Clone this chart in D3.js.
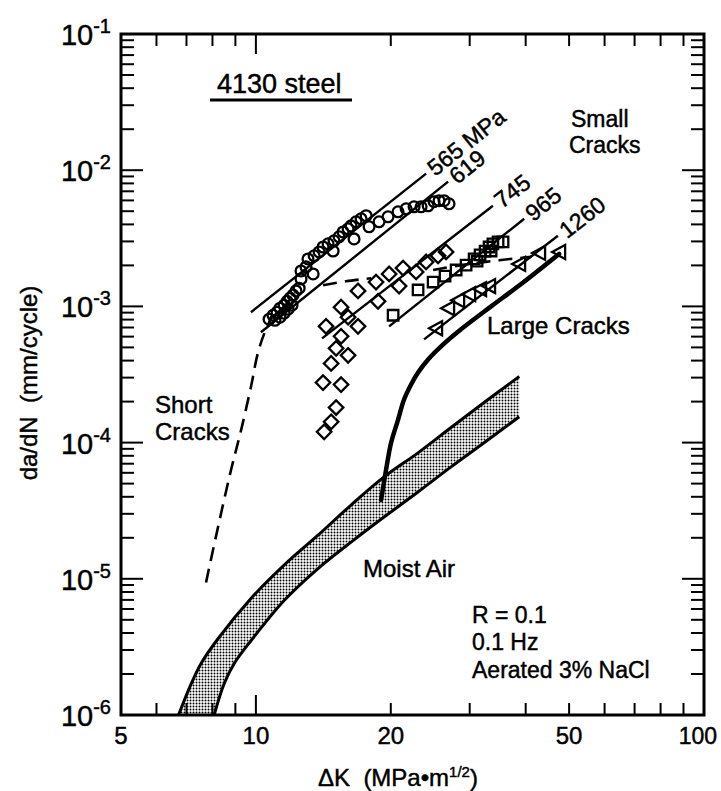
<!DOCTYPE html>
<html><head><meta charset="utf-8">
<script src="https://cdn.jsdelivr.net/npm/d3@7"></script>
<style>
body{margin:0;background:#fff;}
svg text{font-family:"Liberation Sans",Arial,Helvetica,sans-serif;fill:#000;stroke:#000;stroke-width:0.45px;white-space:pre;}
</style></head><body>
<svg id="chart" width="721" height="791"></svg>
<script>
// ---------- data (ΔK in MPa·m^1/2, da/dN in mm/cycle) ----------
const xTickLabels = [5, 10, 20, 50, 100];
const xMinorTicks = [6, 7, 8, 9, 20, 30, 40, 50, 60, 70, 80, 90];
const xMajorTicks = [10];
const yTickExponents = [-6, -5, -4, -3, -2, -1];

const moistAirUpper = [[6.72,1e-6],[7.17,1.69e-6],[7.54,2.38e-6],[8.23,3.63e-6],[9.75,7.17e-6],[11.56,1.26e-5],[13.76,2.09e-5],[16.31,3.48e-5],[19.32,5.6e-5],[23.0,8.41e-5],[27.26,1.29e-4],[32.3,1.97e-4],[38.7,3.06e-4]];
const moistAirLower = [[8.07,1e-6],[8.49,1.69e-6],[8.94,2.38e-6],[9.75,3.51e-6],[11.56,6.93e-6],[13.76,1.19e-5],[16.31,1.86e-5],[19.32,2.84e-5],[23.0,4.34e-5],[27.26,6.63e-5],[32.3,9.97e-5],[38.7,1.55e-4]];

const largeCrack = [[19.03,3.79e-5],[19.52,6.30e-5],[20.03,9.97e-5],[20.76,1.47e-4],[21.41,2.07e-4],[22.20,2.67e-4],[23.01,3.27e-4],[24.23,4.08e-4],[25.90,5.09e-4],[28.70,6.79e-4],[33.49,1.00e-3],[39.07,1.46e-3],[47.5,2.43e-3]];

const shortCrack = [[7.74,9.4e-6],[8.23,2.39e-5],[8.80,6.29e-5],[9.27,1.24e-4],[9.75,2.57e-4],[10.11,4.59e-4],[10.53,6.79e-4],[10.92,8.61e-4]];
const dash745 = [[14.12,1.43e-3],[15.89,1.53e-3],[18.07,1.61e-3]];
const dash965 = [[24.86,1.85e-3],[28.70,2.01e-3],[35.26,2.19e-3],[41.13,2.31e-3]];

const strengthLabels = ["565 MPa", "619", "745", "965", "1260"];
const strengthLines = [
  [[9.75,9.06e-4],[23.98,9.44e-3]],
  [[10.26,6.46e-4],[26.85,8.24e-3]],
  [[14.05,5.82e-4],[33.8,5.48e-3]],
  [[19.83,7.14e-4],[39.7,4.40e-3]],
  [[23.73,5.73e-4],[47.2,3.30e-3]]
];

const circles565 = [[10.70,8.05e-4],[10.92,8.6e-4],[11.15,9.06e-4],[11.32,9.7e-4],[11.56,1.02e-3],[11.74,1.09e-3],[11.92,1.15e-3],[12.10,1.21e-3],[12.29,1.30e-3],[12.49,1.36e-3],[11.03,7.91e-4],[11.32,8.33e-4],[11.56,8.91e-4],[11.80,9.54e-4],[12.04,1.02e-3],[12.61,1.59e-3],[12.61,1.82e-3],[12.94,1.95e-3],[13.07,2.23e-3],[13.49,2.35e-3],[13.84,2.51e-3],[14.12,2.73e-3],[14.49,2.88e-3],[14.94,3.03e-3],[15.33,3.24e-3],[15.65,3.52e-3],[16.06,3.71e-3],[16.31,3.90e-3],[16.73,4.18e-3],[17.17,4.40e-3],[17.62,4.63e-3]];
const circles619 = [[13.42,1.73e-3],[14.87,2.55e-3],[16.56,3.13e-3],[17.89,3.84e-3],[18.83,4.18e-3],[19.72,4.55e-3],[20.76,4.95e-3],[21.64,5.21e-3],[22.54,5.39e-3],[23.37,5.39e-3],[24.23,5.48e-3],[24.98,5.87e-3],[25.63,5.97e-3],[26.30,5.97e-3],[26.98,5.67e-3]];
const diamonds745 = [[14.2,1.2e-4],[14.72,1.42e-4],[15.10,1.81e-4],[14.12,2.76e-4],[15.49,2.67e-4],[14.72,3.81e-4],[16.06,4.37e-4],[15.10,4.92e-4],[15.49,6.03e-4],[14.34,7.14e-4],[16.90,7.14e-4],[15.49,9.86e-4],[16.06,8.33e-4],[16.90,1.30e-3],[18.54,1.51e-3],[18.73,1.09e-3],[19.83,1.73e-3],[20.87,1.41e-3],[21.30,1.91e-3],[22.78,1.79e-3],[23.98,2.12e-3],[25.50,2.35e-3],[26.57,2.51e-3]];
const squares965 = [[20.24,8.61e-4],[23.01,1.32e-3],[24.86,1.51e-3],[26.43,1.67e-3],[27.98,1.85e-3],[29.45,2.01e-3],[30.69,2.23e-3],[31.16,2.15e-3],[31.64,2.39e-3],[32.47,2.55e-3],[33.14,2.73e-3],[33.49,2.55e-3],[33.8,2.88e-3],[34.71,2.98e-3],[35.61,2.98e-3]];
const triangles1260 = [[25.24,6.91e-4],[26.85,9.70e-4],[28.27,1.11e-3],[29.91,1.23e-3],[31.64,1.34e-3],[33.14,1.41e-3],[38.67,2.05e-3],[42.85,2.47e-3],[47.5,2.51e-3]];

// ---------- layout ----------
const L = 121, R = 704, T = 34, B = 715;
const svg = d3.select("#chart");
const x = d3.scaleLog().domain([5, 100]).range([L, R]);
const y = d3.scaleLog().domain([1e-6, 1e-1]).range([B, T]);

const defs = svg.append("defs");
const pat = defs.append("pattern").attr("id","stip").attr("width",3).attr("height",3).attr("patternUnits","userSpaceOnUse");
pat.append("rect").attr("width",3).attr("height",3).attr("fill","#fff");
pat.append("circle").attr("cx",1.5).attr("cy",1.5).attr("r",1).attr("fill","#000");
defs.append("clipPath").attr("id","clip").append("rect").attr("x",L).attr("y",T).attr("width",R-L).attr("height",B-T);

const g = svg.append("g").attr("clip-path","url(#clip)");
const line = d3.line().x(d=>x(d[0])).y(d=>y(d[1]));
const curve = d3.line().x(d=>x(d[0])).y(d=>y(d[1])).curve(d3.curveCatmullRom.alpha(0.5));
const closed = d3.line().x(d=>x(d[0])).y(d=>y(d[1])).curve(d3.curveLinearClosed);

// moist-air band
const bandPts = moistAirUpper.concat(moistAirLower.slice().reverse());
g.append("path").attr("d", closed(bandPts)).attr("fill","url(#stip)").attr("stroke","none");
g.append("path").attr("d", curve(moistAirUpper)).attr("fill","none").attr("stroke","#000").attr("stroke-width",3);
g.append("path").attr("d", curve(moistAirLower)).attr("fill","none").attr("stroke","#000").attr("stroke-width",3);

// large crack curve
g.append("path").attr("d", curve(largeCrack)).attr("fill","none").attr("stroke","#000").attr("stroke-width",4.5).attr("stroke-linecap","round");

// dashed curves
[shortCrack, dash745, dash965].forEach(pts=>{
  g.append("path").attr("d", curve(pts)).attr("fill","none").attr("stroke","#000").attr("stroke-width",2.6).attr("stroke-dasharray","14,8");
});

// strength lines + labels
strengthLines.forEach((pts,i)=>{
  g.append("path").attr("d", line(pts)).attr("fill","none").attr("stroke","#000").attr("stroke-width",2.4);
  const x0=x(pts[0][0]), y0=y(pts[0][1]), x1=x(pts[1][0]), y1=y(pts[1][1]);
  const ang = Math.atan2(y1-y0, x1-x0);
  const lx = x1 + 5*Math.cos(ang), ly = y1 + 5*Math.sin(ang);
  svg.append("text").attr("transform",`translate(${lx},${ly}) rotate(${ang*180/Math.PI})`)
    .attr("dy","0.36em").attr("font-size",23).text(strengthLabels[i]);
});

// markers
const mk = g.append("g").attr("fill","none").attr("stroke","#000").attr("stroke-width",2.3);
circles565.concat(circles619).forEach(d=>{
  mk.append("circle").attr("cx",x(d[0])).attr("cy",y(d[1])).attr("r",5.4);
});
const sq = d3.symbol().type(d3.symbolSquare);
diamonds745.forEach(d=>{
  mk.append("path").attr("d", sq.size(105)()).attr("transform",`translate(${x(d[0])},${y(d[1])}) rotate(45)`);
});
squares965.forEach(d=>{
  mk.append("path").attr("d", sq.size(110)()).attr("transform",`translate(${x(d[0])},${y(d[1])})`);
});
triangles1260.forEach(d=>{
  mk.append("path").attr("d","M-7,0L6,-7L6,7Z").attr("transform",`translate(${x(d[0])},${y(d[1])})`);
});

// axes frame and ticks
const ax = svg.append("g").attr("stroke","#000");
ax.append("rect").attr("x",L).attr("y",T).attr("width",R-L).attr("height",B-T).attr("fill","none").attr("stroke-width",3);
xMinorTicks.forEach(v=>{
  ax.append("line").attr("x1",x(v)).attr("x2",x(v)).attr("y1",B).attr("y2",B-12).attr("stroke-width",2);
  ax.append("line").attr("x1",x(v)).attr("x2",x(v)).attr("y1",T).attr("y2",T+12).attr("stroke-width",2);
});
xMajorTicks.forEach(v=>{
  ax.append("line").attr("x1",x(v)).attr("x2",x(v)).attr("y1",B).attr("y2",B-20).attr("stroke-width",2);
  ax.append("line").attr("x1",x(v)).attr("x2",x(v)).attr("y1",T).attr("y2",T+20).attr("stroke-width",2);
});
yTickExponents.forEach(e=>{
  const yy=y(Math.pow(10,e));
  ax.append("line").attr("x1",L).attr("x2",L+22).attr("y1",yy).attr("y2",yy).attr("stroke-width",2);
  ax.append("line").attr("x1",R).attr("x2",R-22).attr("y1",yy).attr("y2",yy).attr("stroke-width",2);
  if (e === -1) return;
  const base = Math.pow(10,e);
  for(let k=2;k<10;k++){
    const ym=y(k*base);
    ax.append("line").attr("x1",L).attr("x2",L+13).attr("y1",ym).attr("y2",ym).attr("stroke-width",2);
    ax.append("line").attr("x1",R).attr("x2",R-13).attr("y1",ym).attr("y2",ym).attr("stroke-width",2);
  }
});

// tick labels
xTickLabels.forEach((v,i)=>{
  const last = i === xTickLabels.length-1;
  svg.append("text").attr("x",last ? 717 : x(v)).attr("y",744)
    .attr("text-anchor",last ? "end" : "middle").attr("font-size",last ? 23 : 24).text(v);
});
yTickExponents.forEach(e=>{
  const t = svg.append("text").attr("x",111).attr("y",y(Math.pow(10,e))+11).attr("text-anchor","end").attr("font-size",29);
  t.append("tspan").text("10");
  t.append("tspan").attr("dy",-12).attr("font-size",20).text("-"+(-e));
});

// axis titles
const xt = svg.append("text").attr("x",318).attr("y",786).attr("font-size",24);
xt.append("tspan").text("\u0394K  (MPa\u2022m");
xt.append("tspan").attr("dy",-9).attr("font-size",15).text("1/2");
xt.append("tspan").attr("dy",9).text(")");
svg.append("text").attr("transform","translate(37,383) rotate(-90)").attr("text-anchor","middle").attr("font-size",24).text("da/dN  (mm/cycle)");

// annotations
function txt(s,xx,yy,fs){ return svg.append("text").attr("x",xx).attr("y",yy).attr("font-size",fs||24).text(s); }
txt("4130 steel",217,93,27);
svg.append("line").attr("x1",210).attr("x2",352).attr("y1",100).attr("y2",100).attr("stroke","#000").attr("stroke-width",3);
txt("Small",571,127,23);
txt("Cracks",569,153,23);
txt("Large Cracks",487,334,24);
txt("Short",155,413,24);
txt("Cracks",155,440,24);
txt("Moist Air",363,577,24);
txt("R = 0.1",472,623,23);
txt("0.1 Hz",472,650,23);
txt("Aerated 3% NaCl",472,678,23);
</script>
</body></html>
